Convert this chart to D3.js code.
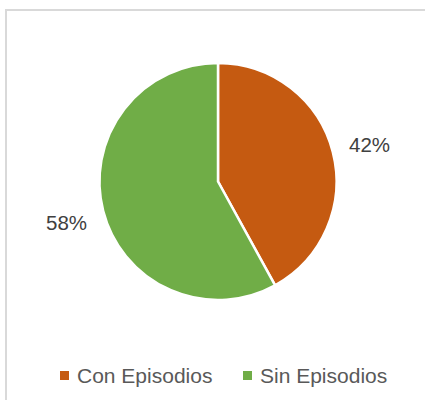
<!DOCTYPE html>
<html>
<head>
<meta charset="utf-8">
<script src="https://cdn.jsdelivr.net/npm/d3@7"></script>
<style>
  html, body { margin: 0; padding: 0; background: #fff; }
  svg { display: block; }
</style>
</head>
<body>
<svg id="chart" width="425" height="400"></svg>
<script>
const categories = ["Con Episodios", "Sin Episodios"];
const values = [42, 58];
const labels = ["42%", "58%"];
const colors = ["#C55A11", "#70AD47"];

const svg = d3.select("#chart");
const W = 425, H = 400;

// chart border
svg.append("rect")
  .attr("x", 6).attr("y", 10)
  .attr("width", W + 10).attr("height", H + 10)
  .attr("fill", "#fff")
  .attr("stroke", "#D9D9D9")
  .attr("stroke-width", 2);

const cx = 218, cy = 181.5, r = 118.5;
const data = categories.map((c, i) => ({ cat: c, value: values[i], label: labels[i], color: colors[i] }));

const pie = d3.pie().value(d => d.value).sort(null);
const arc = d3.arc().innerRadius(0).outerRadius(r);
const arcs = pie(data);

const g = svg.append("g").attr("transform", `translate(${cx},${cy})`);
g.selectAll("path").data(arcs).enter().append("path")
  .attr("d", arc)
  .attr("fill", d => d.data.color)
  .attr("stroke", "#fff")
  .attr("stroke-width", 2.5)
  .attr("stroke-linejoin", "miter");

// labels outside the pie
const labelArc = d3.arc().innerRadius(r * 1.32).outerRadius(r * 1.32);
g.selectAll("text.lbl").data(arcs).enter().append("text")
  .attr("class", "lbl")
  .attr("transform", d => {
    const [x, y] = labelArc.centroid(d);
    return `translate(${x},${y})`;
  })
  .attr("text-anchor", "middle")
  .attr("dy", "0.45em")
  .attr("font-family", "Liberation Sans, Arial, sans-serif")
  .attr("font-size", 20.5)
  .attr("fill", "#404040")
  .text(d => d.data.label);

// legend
const legend = svg.append("g");
const legendX = [60, 243];
const items = legend.selectAll("g").data(data).enter().append("g")
  .attr("transform", (d, i) => `translate(${legendX[i]},371)`);
items.append("rect")
  .attr("x", 0).attr("y", 0).attr("width", 9).attr("height", 9)
  .attr("fill", d => d.color);
items.append("text")
  .attr("x", 17).attr("y", 12)
  .attr("font-family", "Liberation Sans, Arial, sans-serif")
  .attr("font-size", 21)
  .attr("fill", "#595959")
  .text(d => d.cat);
</script>
</body>
</html>
